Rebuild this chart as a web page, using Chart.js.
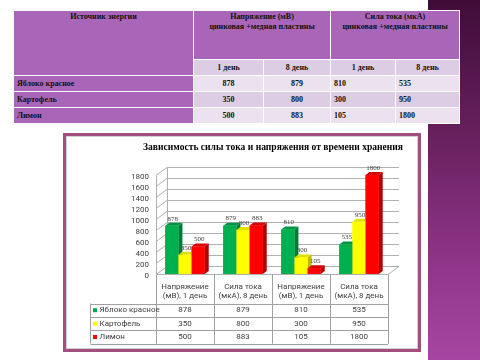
<!DOCTYPE html>
<html>
<head>
<meta charset="utf-8">
<script src="https://cdn.jsdelivr.net/npm/chart.js@4.4.1/dist/chart.umd.min.js"></script>
<style>
  body { margin: 0; width: 480px; height: 360px; overflow: hidden; background: #fff; position: relative; }
  #strip { position: absolute; left: 428px; top: 0; width: 52px; height: 360px;
    background: linear-gradient(to bottom, #3f0c38 0%, #6a2260 40%, #8c3386 70%, #a746a2 100%); }
  #src { position: absolute; left: 13px; top: 10px; width: 446px; border-collapse: collapse; table-layout: fixed;
    font: bold 8px "Liberation Serif", serif; color: #111; z-index: 2; }
  #src td, #src th { border: 1px solid #fff; padding: 0 3px; height: 15px; line-height: 10px; font-weight: bold; }
  #src .hd { background: #a966b9; height: 47px; vertical-align: top; text-align: center; padding-top: 1px; }
  #src .lab { background: #a966b9; text-align: left; }
  #src .sub { background: #dccde4; text-align: center; }
  #src .r0 { background: #ece2ef; }
  #src .r1 { background: #dccde4; }
  #src .c { text-align: center; }
  #frame { position: absolute; left: 63px; top: 133px; width: 358px; height: 219px; box-sizing: border-box;
    border: 3px solid #a24f80; background: #fff; }
  #inner { position: absolute; left: 0; top: 0; right: 0; bottom: 0; border: 1px solid #d0d0d0; }
  #chartBox { position: absolute; left: 67px; top: 137px; width: 350px; height: 211px; }
</style>
</head>
<body>
<div id="strip"></div>
<table id="src">
  <colgroup><col style="width:180px"><col style="width:70px"><col style="width:67px"><col style="width:65px"><col style="width:64px"></colgroup>
  <tbody id="srcBody"></tbody>
</table>
<div id="frame"><div id="inner"></div></div>
<div id="chartBox"><canvas id="myChart" width="350" height="211"></canvas></div>
<script>
const sources = ['Яблоко красное', 'Картофель', 'Лимон'];
const tableHeads = ['Напряжение (мВ)', 'Сила тока (мкА)'];
const plates = 'цинковая +медная пластины';
const days = ['1 день', '8 день', '1 день', '8 день'];
const chartTitle = 'Зависимость силы тока и напряжения от времени хранения';

const categories = [
  ['Напряжение', '(мВ), 1 день'],
  ['Сила тока', '(мкА), 8 день'],
  ['Напряжение', '(мВ), 1 день'],
  ['Сила тока', '(мкА), 8 день']
];
const apple = [878, 879, 810, 535];
const potato = [350, 800, 300, 950];
const lemon = [500, 883, 105, 1800];
const yTicks = [0, 200, 400, 600, 800, 1000, 1200, 1400, 1600, 1800];

const frontColors = ['#00b050', '#ffff00', '#ff0000'];
const sideColors = ['#007a37', '#bdbd00', '#b00000'];
const topColors = ['#009544', '#e0e000', '#d80000'];

const series = [apple, potato, lemon];

function buildTable() {
    const body = document.getElementById('srcBody');
    let html = '<tr><th class="hd" rowspan="2">Источник энергии</th>';
    tableHeads.forEach(h => {
        html += `<th class="hd" colspan="2">${h}<br>${plates}</th>`;
    });
    html += '</tr><tr>';
    days.forEach(d => { html += `<td class="sub">${d}</td>`; });
    html += '</tr>';
    sources.forEach((s, i) => {
        html += `<tr><td class="lab">${s}</td>`;
        series[i].forEach((v, j) => {
            html += `<td class="r${i % 2} ${j < 2 ? 'c' : ''}">${v}</td>`;
        });
        html += '</tr>';
    });
    body.innerHTML = html;
}
buildTable();

const depthX = 11, depthY = -8;
const barDX = 4, barDY = -3;
const sansFont = '8px Roboto, sans-serif';

const chart3d = {
    id: 'chart3d',
    beforeDatasetsDraw(chart) {
        const { ctx, chartArea, scales } = chart;
        const L = chartArea.left, R = chartArea.right;
        ctx.save();
        ctx.strokeStyle = '#b0b0b0';
        ctx.lineWidth = 1;
        yTicks.forEach(v => {
            const y = Math.round(scales.y.getPixelForValue(v)) + 0.5;
            ctx.beginPath();
            ctx.moveTo(L, y);
            ctx.lineTo(L + depthX, y + depthY);
            ctx.lineTo(R + depthX, y + depthY);
            ctx.stroke();
        });
        const y0 = Math.round(scales.y.getPixelForValue(0)) + 0.5;
        const yTop = Math.round(scales.y.getPixelForValue(yTicks[yTicks.length - 1])) + 0.5;
        ctx.beginPath();
        ctx.moveTo(L + 0.5, y0);
        ctx.lineTo(L + 0.5, yTop);
        ctx.moveTo(L + depthX + 0.5, y0 + depthY);
        ctx.lineTo(L + depthX + 0.5, yTop + depthY);
        ctx.moveTo(L, y0);
        ctx.lineTo(R, y0);
        ctx.lineTo(R + depthX, y0 + depthY);
        ctx.stroke();
        ctx.restore();
    },
    afterDatasetsDraw(chart) {
        const { ctx } = chart;
        ctx.save();
        chart.data.datasets.forEach((ds, i) => {
            chart.getDatasetMeta(i).data.forEach(bar => {
                const { x, y, base, width } = bar.getProps(['x', 'y', 'base', 'width'], true);
                const l = x - width / 2, r = x + width / 2;
                ctx.fillStyle = sideColors[i];
                ctx.beginPath();
                ctx.moveTo(r, y);
                ctx.lineTo(r + barDX, y + barDY);
                ctx.lineTo(r + barDX, base + barDY);
                ctx.lineTo(r, base);
                ctx.fill();
                ctx.fillStyle = topColors[i];
                ctx.beginPath();
                ctx.moveTo(l, y);
                ctx.lineTo(l + barDX, y + barDY);
                ctx.lineTo(r + barDX, y + barDY);
                ctx.lineTo(r, y);
                ctx.fill();
                ctx.fillStyle = frontColors[i];
                ctx.fillRect(l, y, width, base - y);
            });
        });
        ctx.font = '7px "Liberation Serif", serif';
        ctx.fillStyle = '#404040';
        ctx.textAlign = 'center';
        ctx.textBaseline = 'middle';
        chart.data.datasets.forEach((ds, i) => {
            chart.getDatasetMeta(i).data.forEach((bar, j) => {
                ctx.fillText(ds.data[j], bar.x + 1, bar.y - 7);
            });
        });
        ctx.restore();
    },
    afterDraw(chart) {
        const { ctx, chartArea } = chart;
        const L = chartArea.left, R = chartArea.right;
        const top = Math.round(chartArea.bottom) + 0.5;
        const colW = (R - L) / categories.length;
        const headBottom = top + 29;
        const rowH = 13.4;
        const legLeft = L - 65.5;
        ctx.save();
        // title, centred over the plot
        ctx.font = 'bold 10.5px "Liberation Serif", serif';
        ctx.fillStyle = '#000';
        ctx.textAlign = 'center';
        ctx.textBaseline = 'middle';
        ctx.fillText(chartTitle, (L + R) / 2 + 1, 10, 260);

        ctx.strokeStyle = '#a0a0a0';
        ctx.lineWidth = 1;
        ctx.beginPath();
        for (let k = 0; k <= categories.length; k++) {
            const x = Math.round(L + k * colW) + 0.5;
            ctx.moveTo(x, top);
            ctx.lineTo(x, headBottom + rowH * 3);
        }
        ctx.moveTo(legLeft, headBottom);
        ctx.lineTo(legLeft, headBottom + rowH * 3);
        for (let r = 0; r <= 3; r++) {
            const y = Math.round(headBottom + r * rowH) + 0.5;
            ctx.moveTo(legLeft, y);
            ctx.lineTo(R, y);
        }
        ctx.stroke();
        ctx.font = sansFont;
        ctx.fillStyle = '#404040';
        chart.data.datasets.forEach((ds, i) => {
            const yc = headBottom + rowH * (i + 0.5);
            ctx.textAlign = 'center';
            ds.data.forEach((v, j) => {
                ctx.fillText(v, L + colW * (j + 0.5), yc);
            });
            ctx.fillStyle = frontColors[i];
            ctx.fillRect(legLeft + 2.5, yc - 2, 4, 4);
            ctx.fillStyle = '#404040';
            ctx.textAlign = 'left';
            ctx.fillText(ds.label, legLeft + 9, yc);
        });
        ctx.restore();
    }
};

const config = {
    type: 'bar',
    data: {
        labels: categories,
        datasets: sources.map((s, i) => ({
            label: s,
            data: series[i],
            backgroundColor: frontColors[i],
            borderWidth: 0
        }))
    },
    options: {
        responsive: false,
        animation: false,
        events: [],
        layout: { padding: { left: 0, right: 29, top: 38, bottom: 0 } },
        datasets: { bar: { categoryPercentage: 0.68, barPercentage: 1 } },
        plugins: {
            legend: { display: false },
            tooltip: { enabled: false },
            title: { display: false }
        },
        scales: {
            x: {
                grid: { display: false, drawTicks: false },
                border: { display: false },
                afterFit(scale) { scale.height = 74; },
                ticks: {
                    autoSkip: false,
                    maxRotation: 0,
                    padding: 9,
                    color: '#404040',
                    font: { family: 'Roboto, sans-serif', size: 8, lineHeight: 1.1 }
                }
            },
            y: {
                min: 0,
                max: 1800,
                grid: { display: false, drawTicks: false },
                border: { display: false },
                afterFit(scale) { scale.width = 89; },
                ticks: {
                    stepSize: 200,
                    autoSkip: false,
                    padding: 7,
                    labelOffset: 2,
                    color: '#404040',
                    font: { family: 'Roboto, sans-serif', size: 8 },
                    callback: (v) => String(v)
                }
            }
        }
    },
    plugins: [chart3d]
};

const myChart = new Chart('myChart', config);
</script>
</body>
</html>
